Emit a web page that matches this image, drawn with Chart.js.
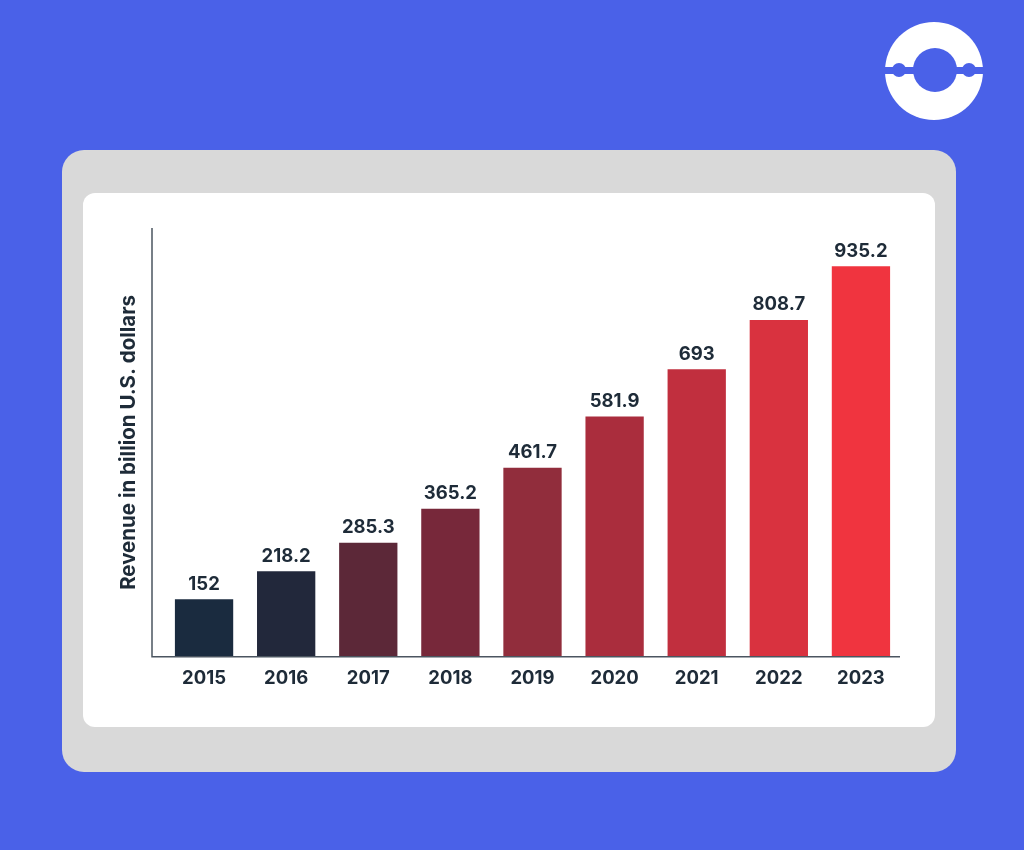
<!DOCTYPE html>
<html>
<head>
<meta charset="utf-8">
<script src="https://cdn.jsdelivr.net/npm/chart.js@4.4.0/dist/chart.umd.min.js"></script>
<style>
  html, body { margin: 0; padding: 0; }
  body {
    width: 1024px; height: 850px; position: relative; overflow: hidden;
    background: #4a61e8;
    font-family: Inter, "Open Sans", sans-serif;
  }
  #logo { position: absolute; left: 884px; top: 22px; }
  #marco {
    position: absolute; left: 62px; top: 150px; width: 894px; height: 622px;
    background: #d9d9d9; border-radius: 22px;
  }
  #tarjeta {
    position: absolute; left: 83px; top: 193px; width: 852px; height: 534px;
    background: #ffffff; border-radius: 12px;
  }
  #grafico { position: absolute; left: 0; top: 0; }
</style>
</head>
<body>
<svg id="logo" width="100" height="100" viewBox="0 0 100 100">
  <circle cx="50" cy="49" r="49" fill="#ffffff"/>
  <circle cx="51" cy="48" r="22" fill="#4a61e8"/>
  <rect x="0" y="45" width="100" height="7" fill="#4a61e8"/>
  <circle cx="15" cy="48" r="7" fill="#4a61e8"/>
  <circle cx="85" cy="48" r="7" fill="#4a61e8"/>
</svg>
<div id="marco"></div>
<div id="tarjeta">
  <canvas id="grafico" width="852" height="534"></canvas>
</div>
<script>
// Datos del gráfico
const anios = ['2015', '2016', '2017', '2018', '2019', '2020', '2021', '2022', '2023'];
const ingresos = [152, 218.2, 285.3, 365.2, 461.7, 581.9, 693, 808.7, 935.2];
const coloresBarras = ['#1a2b3f', '#22283b', '#5c2838', '#77283a', '#912d3c', '#aa2d3d', '#c12f3e', '#d9323f', '#f0343f'];
const tituloEje = 'Revenue in billion U.S. dollars';

const colorTexto = '#1e2b38';
const fuente = 'Inter, "Open Sans", sans-serif';

// Líneas de los ejes (un poco a la izquierda del área)
const ejesPlugin = {
    id: 'ejes',
    afterDraw(chart) {
        const { ctx, chartArea } = chart;
        const izq = chartArea.left - 11;
        ctx.save();
        ctx.strokeStyle = '#4b5560';
        ctx.lineWidth = 1.5;
        ctx.beginPath();
        ctx.moveTo(izq, chartArea.top);
        ctx.lineTo(izq, chartArea.bottom);
        ctx.lineTo(chartArea.right - 2, chartArea.bottom);
        ctx.stroke();
        ctx.restore();
    }
};

// Valores encima de cada barra
const valoresPlugin = {
    id: 'valores',
    afterDatasetsDraw(chart) {
        const { ctx } = chart;
        const meta = chart.getDatasetMeta(0);
        ctx.save();
        ctx.fillStyle = colorTexto;
        ctx.font = 'bold 18.5px ' + fuente;
        ctx.textAlign = 'center';
        ctx.textBaseline = 'bottom';
        meta.data.forEach((barra, i) => {
            ctx.fillText(String(ingresos[i]), barra.x, barra.y - 6);
        });
        ctx.restore();
    }
};

const ctx = document.getElementById('grafico').getContext('2d');
const grafico = new Chart(ctx, {
    type: 'bar',
    data: {
        labels: anios,
        datasets: [{
            data: ingresos,
            backgroundColor: coloresBarras,
            borderWidth: 0,
            categoryPercentage: 1,
            barPercentage: 0.71
        }]
    },
    options: {
        responsive: false,
        animation: false,
        layout: { padding: { left: 0, right: 33, top: 35, bottom: 34 } },
        plugins: {
            legend: { display: false },
            tooltip: { enabled: false }
        },
        scales: {
            x: {
                grid: { display: false },
                border: { display: false },
                ticks: {
                    color: colorTexto,
                    padding: 3,
                    font: { family: fuente, size: 18.5, weight: 'bold' }
                }
            },
            y: {
                min: 17,
                max: 1025,
                grid: { display: false },
                border: { display: false },
                ticks: { display: false },
                afterFit(escala) { escala.width = 80; },
                title: {
                    display: true,
                    text: tituloEje,
                    color: colorTexto,
                    padding: { top: 34, bottom: 0 },
                    font: { family: fuente, size: 20.5, weight: 'bold' }
                }
            }
        }
    },
    plugins: [ejesPlugin, valoresPlugin]
});
</script>
</body>
</html>
